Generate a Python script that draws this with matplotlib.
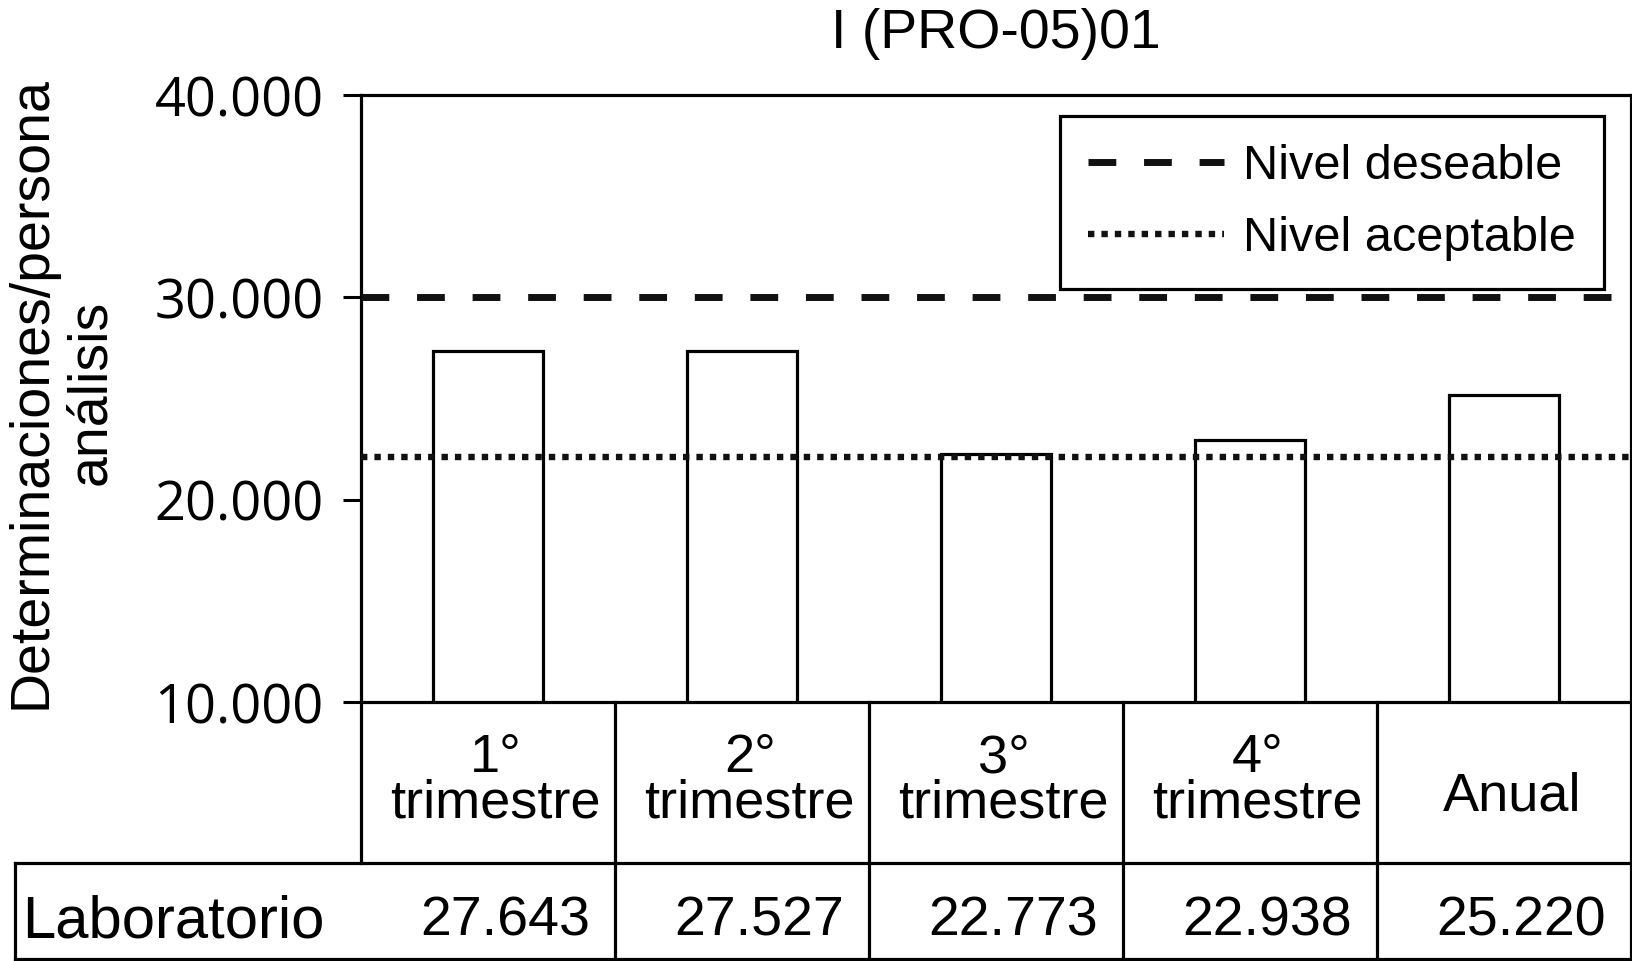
import matplotlib
matplotlib.use("Agg")
import matplotlib.pyplot as plt
import matplotlib.transforms as mtransforms
from matplotlib.ticker import FuncFormatter

title = "I (PRO-05)01"
categories = ["1°\ntrimestre", "2°\ntrimestre", "3°\ntrimestre", "4°\ntrimestre", "Anual"]
bar_values = [27350, 27350, 22250, 22970, 25190]   # bar heights as drawn
table_values = ["27.643", "27.527", "22.773", "22.938", "25.220"]
row_label = "Laboratorio"
nivel_deseable = 30000
nivel_aceptable = 22100
y_ticks = [10000, 20000, 30000, 40000]

plt.rcParams['font.family'] = ['Liberation Sans', 'DejaVu Sans']

fig = plt.figure(figsize=(16.33, 9.61), dpi=100)
ax = fig.add_axes([0.2211, 0.2695, 0.7777, 0.6316])

x = list(range(len(categories)))
ax.bar(x, bar_values, width=0.43, color="white", edgecolor="black", linewidth=2.3, zorder=2)

ax.axhline(nivel_deseable, color="#111111", lw=5, linestyle=(0, (4, 4)), zorder=3,
           label="Nivel deseable")
ax.axhline(nivel_aceptable, color="#111111", lw=4.6, linestyle=(0, (1, 1.1)), zorder=3,
           label="Nivel aceptable")

ax.set_xlim(-0.5, len(categories) - 0.5)
ax.set_ylim(10000, 40000)
ax.set_yticks(y_ticks)
ax.yaxis.set_major_formatter(FuncFormatter(lambda v, p: f"{int(v):,}".replace(",", ".")))
ax.set_xticks([])
ax.tick_params(axis="y", direction="out", length=13, width=2.2, pad=14, labelsize=39)
for lbl in ax.get_yticklabels():
    lbl.set_family("Open Sans")
for s in ax.spines.values():
    s.set_linewidth(2.3)

ax.set_title(title, fontsize=40, pad=34)

leg = ax.legend(loc="upper right", bbox_to_anchor=(0.979, 0.966), fontsize=35,
                handlelength=2.8, handletextpad=0.4, borderpad=0.58, labelspacing=0.55,
                fancybox=False, framealpha=1, edgecolor="black", borderaxespad=0)
leg.get_frame().set_linewidth(2.3)

# table under the axis
tr = mtransforms.blended_transform_factory(ax.transData, ax.transAxes)
y_head = -0.2652
y_bot = -0.4234
x_left = -1.864
n = len(categories)
kw = dict(color="black", lw=2.3, transform=tr, clip_on=False, solid_capstyle="projecting")
ax.plot([x_left, n - 0.5], [y_head, y_head], **kw)
ax.plot([x_left, n - 0.5], [y_bot, y_bot], **kw)
ax.plot([x_left, x_left], [y_head, y_bot], **kw)
for i in range(n + 1):
    xb = i - 0.5
    ax.plot([xb, xb], [0, y_head], **kw)
    if i > 0:
        ax.plot([xb, xb], [y_head, y_bot], **kw)

for i, c in enumerate(categories):
    yc = -0.13 if "\n" in c else -0.155
    ax.text(i + 0.03, yc, c, transform=tr, ha="center", va="center", fontsize=39,
            linespacing=0.88)
    ax.text(i + 0.4, -0.362, table_values[i], transform=tr, ha="right", va="center",
            fontsize=40)
ax.text(-1.833, -0.362, row_label, transform=tr, ha="left", va="center", fontsize=43)

fig.text(0.0375, 0.592, "Determinaciones/persona\nanálisis", rotation=90, ha="center",
         va="center", fontsize=40, linespacing=1.2)

fig.savefig("out.png", dpi=100)
